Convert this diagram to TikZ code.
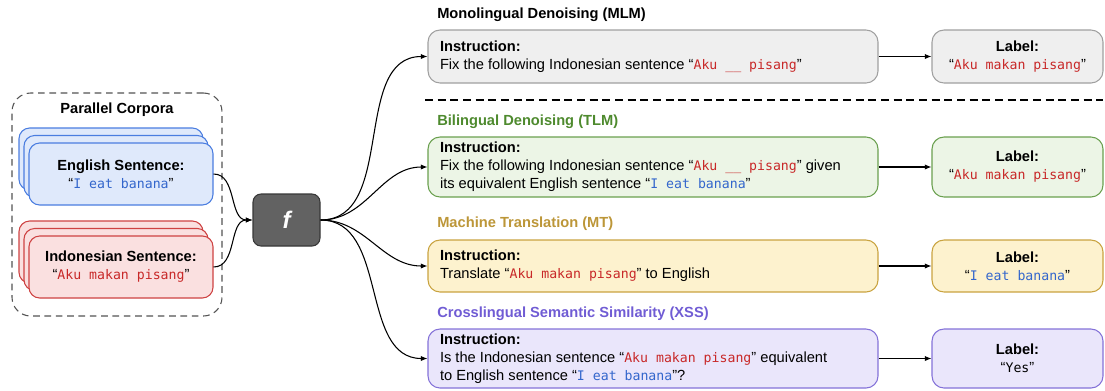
\documentclass[tikz,border=0pt]{standalone}
\usepackage{fontspec}
\setmainfont{Liberation Sans}
\setmonofont{DejaVu Sans Mono}[Scale=0.9]
\usepackage{xcolor}
\usetikzlibrary{positioning,arrows.meta,backgrounds}
\definecolor{mlmline}{RGB}{160,160,160}
\definecolor{mlmfill}{RGB}{239,239,239}
\definecolor{mlmtitle}{RGB}{0,0,0}
\definecolor{tlmline}{RGB}{106,160,79}
\definecolor{tlmfill}{RGB}{236,245,230}
\definecolor{tlmtitle}{RGB}{78,138,46}
\definecolor{mtline}{RGB}{201,163,64}
\definecolor{mtfill}{RGB}{253,242,206}
\definecolor{mttitle}{RGB}{188,150,56}
\definecolor{xssline}{RGB}{132,114,216}
\definecolor{xssfill}{RGB}{234,230,251}
\definecolor{xsstitle}{RGB}{112,92,212}
\definecolor{enline}{RGB}{74,125,224}
\definecolor{enfill}{RGB}{223,233,251}
\definecolor{idline}{RGB}{206,66,66}
\definecolor{idfill}{RGB}{250,224,224}
\definecolor{idtext}{RGB}{200,40,40}
\definecolor{entext}{RGB}{51,102,204}
\definecolor{fgray}{RGB}{98,98,98}
\definecolor{fborder}{RGB}{55,55,55}
\newcommand{\indo}[1]{“\textcolor{idtext}{\spaceskip=0pt\relax\texttt{#1}}”}
\newcommand{\engl}[1]{“\textcolor{entext}{\spaceskip=0pt\relax\texttt{#1}}”}
\begin{document}
\begin{tikzpicture}[
    x=0.75pt, y=-0.75pt,
    font=\fontsize{11}{13.5}\selectfont,
    instr/.style={rectangle, draw=#1line, fill=#1fill, rounded corners=9pt, text width=319.5pt, inner xsep=9pt, inner ysep=0pt, align=left, line width=.8pt, execute at begin node={\spaceskip=0pt\relax}},
    lab/.style={rectangle, draw=#1line, fill=#1fill, rounded corners=9pt, minimum width=128.25pt, inner sep=0pt, align=center, line width=.8pt},
    sent/.style={rectangle, draw=#1line, fill=#1fill, rounded corners=8pt, minimum width=138pt, minimum height=46.5pt, align=center, line width=.8pt},
    tasktitle/.style={anchor=west, inner sep=0pt, font=\fontsize{11}{13.5}\selectfont\bfseries, text=#1title},
    corpus/.style={rectangle, draw=darkgray!90, dash pattern=on 5pt off 3.5pt, rounded corners=14pt, minimum width=157.5pt, minimum height=167.25pt, line width=.8pt},
    funcbox/.style={rectangle, fill=fgray, draw=fborder, rounded corners=6pt, minimum width=50.25pt, minimum height=39pt, text=white, font=\fontsize{18}{18}\selectfont\bfseries\itshape, line width=.8pt},
    flow/.style={-{Latex[length=5pt,width=4pt]}, draw=black, line width=.8pt},
    sepline/.style={draw=black, dash pattern=on 6pt off 3.5pt, line width=.8pt}
]
    \useasboundingbox (0,0) rectangle (1105,390);

    % parallel corpora
    \node[corpus] (corpora) at (117,204.5) {};
    \node[font=\fontsize{11}{13.5}\selectfont\bfseries, inner sep=0pt] (corptitle) at (117,110) {Parallel Corpora};

    \node[sent=en] (enback2) at (111,159) {};
    \node[sent=en] (enback1) at (116,166.5) {};
    \node[sent=en] (ensent) at (121,174) {\textbf{English Sentence:}\\\engl{I eat banana}};

    \node[sent=id] (idback2) at (111,252) {};
    \node[sent=id] (idback1) at (116,259.5) {};
    \node[sent=id] (idsent) at (121,267) {\textbf{Indonesian Sentence:}\\\indo{Aku makan pisang}};

    \node[funcbox] (func) at (286.5,220) {f};

    % tasks
    \node[tasktitle=mlm] (mlmtitle) at (437,15) {Monolingual Denoising (MLM)};
    \node[instr=mlm, minimum height=39.75pt] (mlm) at (653,56.5) {\textbf{Instruction:}\\Fix the following Indonesian sentence \indo{Aku \_\_ pisang}};
    \node[lab=mlm, minimum height=39.75pt] (mlmlabel) at (1017.5,56.5) {\textbf{Label:}\\\indo{Aku makan pisang}};

    \coordinate (sepl) at (425,100);
    \coordinate (sepr) at (1103,100);

    \node[tasktitle=tlm] (tlmtitle) at (437,122) {Bilingual Denoising (TLM)};
    \node[instr=tlm, minimum height=45pt] (tlm) at (653,167) {\textbf{Instruction:}\\Fix the following Indonesian sentence \indo{Aku \_\_ pisang} given\\its equivalent English sentence \engl{I eat banana}};
    \node[lab=tlm, minimum height=45pt] (tlmlabel) at (1017.5,167) {\textbf{Label:}\\\indo{Aku makan pisang}};

    \node[tasktitle=mt] (mttitle) at (437,224) {Machine Translation (MT)};
    \node[instr=mt, minimum height=39pt] (mt) at (653,266) {\textbf{Instruction:}\\Translate \indo{Aku makan pisang} to English};
    \node[lab=mt, minimum height=39pt] (mtlabel) at (1017.5,266) {\textbf{Label:}\\\engl{I eat banana}};

    \node[tasktitle=xss] (xsstitle) at (437,314) {Crosslingual Semantic Similarity (XSS)};
    \node[instr=xss, minimum height=44.25pt] (xss) at (653,358.5) {\textbf{Instruction:}\\Is the Indonesian sentence \indo{Aku makan pisang} equivalent\\to English sentence \engl{I eat banana}?};
    \node[lab=xss, minimum height=44.25pt] (xsslabel) at (1017.5,358.5) {\textbf{Label:}\\“\texttt{Yes}”};

    \draw[sepline] (sepl) -- (sepr);

    \draw[flow] (ensent.east) to[out=0,in=180] (func.west);
    \draw[flow] (idsent.east) to[out=0,in=180] (func.west);
    \foreach \t in {mlm,tlm,mt,xss} {
        \draw[flow] (func.east) to[out=0,in=180] (\t.west);
        \draw[flow] (\t.east) -- (\t label.west);
    }

\end{tikzpicture}
\end{document}
